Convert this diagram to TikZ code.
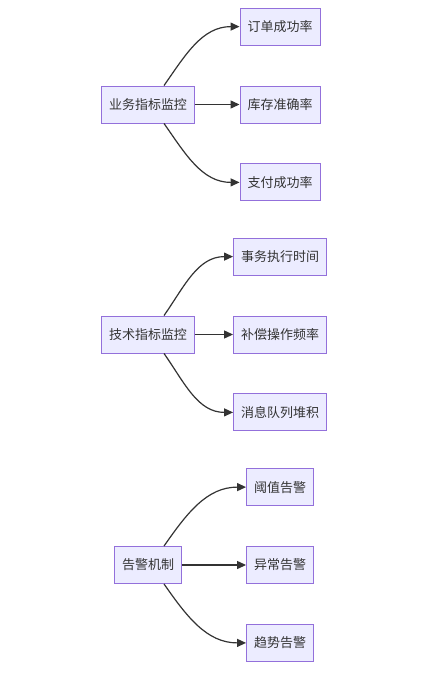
\documentclass[tikz,border=0pt]{standalone}
\usepackage{fontspec}
\setmainfont{Noto Sans CJK SC}
\usepackage{xcolor}
\usetikzlibrary{positioning, arrows.meta}
\definecolor{nodefill}{HTML}{ECECFF}
\definecolor{nodeline}{HTML}{9370DB}
\definecolor{edgeline}{HTML}{333333}

\begin{document}
\begin{tikzpicture}[
    x=1pt, y=1pt,
    node distance=40pt,
    >={Triangle[length=9pt, width=8pt]},
    box/.style={draw=nodeline, fill=nodefill, line width=0.9pt, minimum height=37pt, inner xsep=7.5pt, font=\fontsize{13pt}{15pt}\selectfont, text=edgeline},
    arr/.style={->, line width=1.2pt, draw=edgeline},
]
\useasboundingbox (0,0) rectangle (434,-681);

% Business metrics
\node[box] (biz) at (148,-104.5) {业务指标监控};
\node[box] (bizstock) at (280,-104.5) {库存准确率};
\node[box, above=of bizstock] (bizorder) {订单成功率};
\node[box, below=of bizstock] (bizpay) {支付成功率};

% Technical metrics
\node[box] (tech) at (148,-334.5) {技术指标监控};
\node[box] (techcomp) at (280,-334.5) {补偿操作频率};
\node[box, above=of techcomp] (techtx) {事务执行时间};
\node[box, below=of techcomp] (techmq) {消息队列堆积};

% Alerting
\node[box] (alert) at (148,-565) {告警机制};
\node[box] (alertab) at (280,-565) {异常告警};
\node[box, above=of alertab] (alertth) {阈值告警};
\node[box, below=of alertab] (alerttr) {趋势告警};

% Arrows
\draw[arr] ([xshift=16pt]biz.north) to[out=55, in=180] (bizorder.west);
\draw[arr] (biz) -- (bizstock);
\draw[arr] ([xshift=16pt]biz.south) to[out=-55, in=180] (bizpay.west);

\draw[arr] ([xshift=16pt]tech.north) to[out=55, in=180] (techtx.west);
\draw[arr] (tech) -- (techcomp);
\draw[arr] ([xshift=16pt]tech.south) to[out=-55, in=180] (techmq.west);

\draw[arr] ([xshift=16pt]alert.north) to[out=55, in=180] (alertth.west);
\draw[arr] (alert) -- (alertab);
\draw[arr] ([xshift=16pt]alert.south) to[out=-55, in=180] (alerttr.west);

\end{tikzpicture}
\end{document}
